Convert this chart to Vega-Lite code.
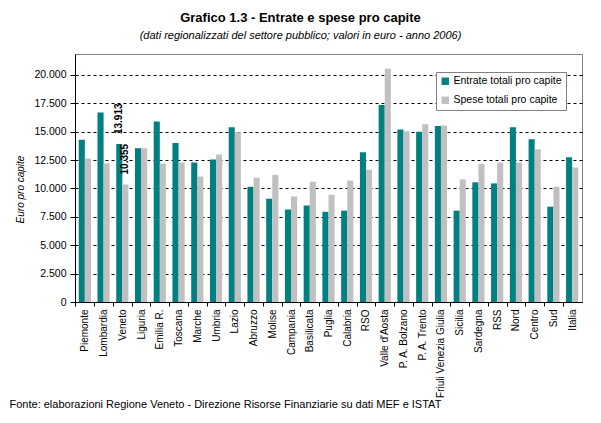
{
  "$schema": "https://vega.github.io/schema/vega-lite/v6.json",
  "width": 507,
  "height": 248,
  "autosize": {"type": "none"},
  "padding": {"left": 75, "top": 54, "right": 19, "bottom": 121},
  "background": "white",
  "title": {
    "text": "Grafico 1.3 - Entrate e spese pro capite",
    "subtitle": "(dati regionalizzati del settore pubblico; valori in euro - anno 2006)",
    "anchor": "middle",
    "dx": -28,
    "offset": 13,
    "font": "Liberation Sans",
    "fontSize": 13,
    "fontWeight": "bold",
    "color": "black",
    "subtitleFont": "Liberation Sans",
    "subtitleFontStyle": "italic",
    "subtitleFontSize": 11,
    "subtitleColor": "black",
    "subtitlePadding": 5
  },
  "config": {
    "locale": {"number": {"decimal": ",", "thousands": ".", "grouping": [3], "currency": ["€", ""]}},
    "view": {"stroke": "#808080", "strokeWidth": 1},
    "font": "Liberation Sans"
  },
  "data": {
    "values": [
      {"region": "Piemonte", "serie": "Entrate totali pro capite", "value": 14300},
      {"region": "Piemonte", "serie": "Spese totali pro capite", "value": 12650},
      {"region": "Lombardia", "serie": "Entrate totali pro capite", "value": 16700},
      {"region": "Lombardia", "serie": "Spese totali pro capite", "value": 12200},
      {"region": "Veneto", "serie": "Entrate totali pro capite", "value": 13913},
      {"region": "Veneto", "serie": "Spese totali pro capite", "value": 10355},
      {"region": "Liguria", "serie": "Entrate totali pro capite", "value": 13550},
      {"region": "Liguria", "serie": "Spese totali pro capite", "value": 13550},
      {"region": "Emilia R.", "serie": "Entrate totali pro capite", "value": 15900},
      {"region": "Emilia R.", "serie": "Spese totali pro capite", "value": 12200},
      {"region": "Toscana", "serie": "Entrate totali pro capite", "value": 14000},
      {"region": "Toscana", "serie": "Spese totali pro capite", "value": 12300},
      {"region": "Marche", "serie": "Entrate totali pro capite", "value": 12300},
      {"region": "Marche", "serie": "Spese totali pro capite", "value": 11050},
      {"region": "Umbria", "serie": "Entrate totali pro capite", "value": 12550},
      {"region": "Umbria", "serie": "Spese totali pro capite", "value": 13000},
      {"region": "Lazio", "serie": "Entrate totali pro capite", "value": 15400},
      {"region": "Lazio", "serie": "Spese totali pro capite", "value": 14950},
      {"region": "Abruzzo", "serie": "Entrate totali pro capite", "value": 10150},
      {"region": "Abruzzo", "serie": "Spese totali pro capite", "value": 10950},
      {"region": "Molise", "serie": "Entrate totali pro capite", "value": 9100},
      {"region": "Molise", "serie": "Spese totali pro capite", "value": 11200},
      {"region": "Campania", "serie": "Entrate totali pro capite", "value": 8150},
      {"region": "Campania", "serie": "Spese totali pro capite", "value": 9300},
      {"region": "Basilicata", "serie": "Entrate totali pro capite", "value": 8500},
      {"region": "Basilicata", "serie": "Spese totali pro capite", "value": 10600},
      {"region": "Puglia", "serie": "Entrate totali pro capite", "value": 7950},
      {"region": "Puglia", "serie": "Spese totali pro capite", "value": 9450},
      {"region": "Calabria", "serie": "Entrate totali pro capite", "value": 8050},
      {"region": "Calabria", "serie": "Spese totali pro capite", "value": 10700},
      {"region": "RSO", "serie": "Entrate totali pro capite", "value": 13200},
      {"region": "RSO", "serie": "Spese totali pro capite", "value": 11650},
      {"region": "Valle d'Aosta", "serie": "Entrate totali pro capite", "value": 17350},
      {"region": "Valle d'Aosta", "serie": "Spese totali pro capite", "value": 20550},
      {"region": "P. A. Bolzano", "serie": "Entrate totali pro capite", "value": 15200},
      {"region": "P. A. Bolzano", "serie": "Spese totali pro capite", "value": 15050},
      {"region": "P. A. Trento", "serie": "Entrate totali pro capite", "value": 15000},
      {"region": "P. A. Trento", "serie": "Spese totali pro capite", "value": 15650},
      {"region": "Friuli Venezia Giulia", "serie": "Entrate totali pro capite", "value": 15500},
      {"region": "Friuli Venezia Giulia", "serie": "Spese totali pro capite", "value": 15550},
      {"region": "Sicilia", "serie": "Entrate totali pro capite", "value": 8050},
      {"region": "Sicilia", "serie": "Spese totali pro capite", "value": 10800},
      {"region": "Sardegna", "serie": "Entrate totali pro capite", "value": 10550},
      {"region": "Sardegna", "serie": "Spese totali pro capite", "value": 12150},
      {"region": "RSS", "serie": "Entrate totali pro capite", "value": 10450},
      {"region": "RSS", "serie": "Spese totali pro capite", "value": 12300},
      {"region": "Nord", "serie": "Entrate totali pro capite", "value": 15400},
      {"region": "Nord", "serie": "Spese totali pro capite", "value": 12300},
      {"region": "Centro", "serie": "Entrate totali pro capite", "value": 14350},
      {"region": "Centro", "serie": "Spese totali pro capite", "value": 13450},
      {"region": "Sud", "serie": "Entrate totali pro capite", "value": 8400},
      {"region": "Sud", "serie": "Spese totali pro capite", "value": 10150},
      {"region": "Italia", "serie": "Entrate totali pro capite", "value": 12750},
      {"region": "Italia", "serie": "Spese totali pro capite", "value": 11850}
    ]
  },
  "encoding": {
    "x": {
      "field": "region",
      "type": "nominal",
      "sort": null,
      "scale": {"paddingInner": 0.35, "paddingOuter": 0.2},
      "axis": {
        "title": "Fonte: elaborazioni Regione Veneto - Direzione Risorse Finanziarie su dati MEF e ISTAT",
        "titleAnchor": "start",
        "titleAlign": "left",
        "titleBaseline": "alphabetic",
        "titleX": -66,
        "titleY": 105,
        "titleFont": "Liberation Sans",
        "titleFontSize": 11,
        "titleFontWeight": "normal",
        "titleColor": "black",
        "labelAngle": -90,
        "labelFontSize": 10,
        "labelColor": "black",
        "labelPadding": 3,
        "labelBound": false,
        "labelOverlap": false,
        "domainColor": "black",
        "tickColor": "black",
        "tickSize": 4,
        "tickOffset": -9.375,
        "labelOffset": 9.375,
        "grid": false
      }
    },
    "xOffset": {
      "field": "serie",
      "type": "nominal",
      "scale": {"domain": ["Entrate totali pro capite", "Spese totali pro capite"], "paddingInner": 0}
    },
    "y": {
      "field": "value",
      "type": "quantitative",
      "scale": {"domain": [0, 21850], "nice": false, "zero": true},
      "axis": {
        "title": "Euro pro capite",
        "titleFont": "Liberation Sans",
        "titleFontStyle": "italic",
        "titleFontWeight": "normal",
        "titleFontSize": 10,
        "titleColor": "black",
        "titlePadding": 8,
        "titleY": 135,
        "values": [0, 2500, 5000, 7500, 10000, 12500, 15000, 17500, 20000],
        "format": ",d",
        "labelFontSize": 10.5,
        "labelColor": "black",
        "labelPadding": 4,
        "domainColor": "black",
        "tickColor": "black",
        "tickSize": 5,
        "grid": true,
        "gridColor": "black",
        "gridDash": [3, 3],
        "gridWidth": 1
      }
    }
  },
  "layer": [
    {
      "mark": {"type": "bar"},
      "encoding": {
        "color": {
          "field": "serie",
          "type": "nominal",
          "scale": {"domain": ["Entrate totali pro capite", "Spese totali pro capite"], "range": ["#008080", "#C0C0C0"]},
          "legend": {
            "title": null,
            "orient": "none",
            "legendX": 361,
            "legendY": 18,
            "padding": 4,
            "strokeColor": "#808080",
            "fillColor": "white",
            "symbolType": "square",
            "symbolSize": 55,
            "symbolStrokeWidth": 0,
            "symbolOpacity": 1,
            "labelFontSize": 10.5,
            "labelColor": "black",
            "labelOffset": 3,
            "rowPadding": 8
          }
        }
      }
    },
    {
      "transform": [{"filter": "datum.region == 'Veneto'"}],
      "mark": {"type": "text", "angle": 270, "align": "left", "baseline": "middle", "dx": 10, "fontWeight": "bold", "fontSize": 10, "color": "black"},
      "encoding": {
        "text": {"field": "value", "type": "quantitative", "format": ",d"}
      }
    }
  ]
}
